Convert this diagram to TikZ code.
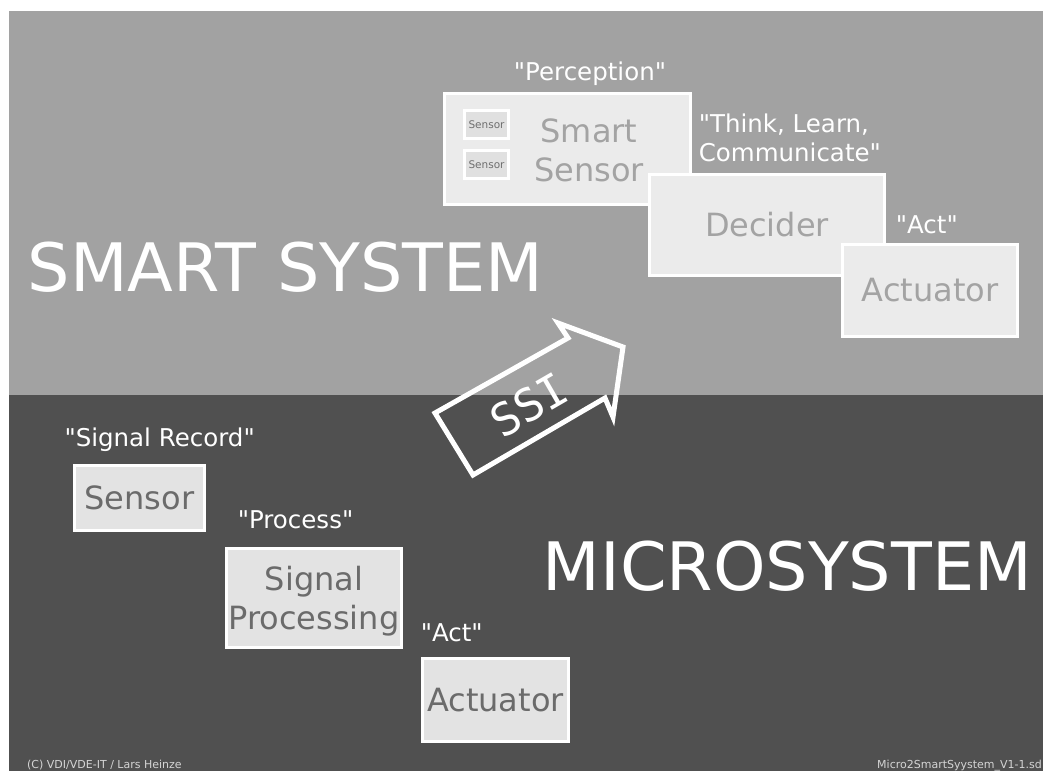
\documentclass[tikz,border=0pt]{standalone}
\usepackage{fontspec}
\setmainfont{DejaVu Sans}[Ligatures=TeXOff]
\newfontfamily\ssifont{DejaVu Sans Mono}
\usepackage{xcolor}
\usepackage{tikz}
\usetikzlibrary{positioning}
\definecolor{smartbg}{HTML}{A2A2A2}
\definecolor{microbg}{HTML}{505050}
\definecolor{smartfill}{HTML}{EBEBEB}
\definecolor{smarttext}{HTML}{A3A3A3}
\definecolor{sensorfill}{HTML}{E0E0E0}
\definecolor{sensortext}{HTML}{6E6E6E}
\definecolor{microfill}{HTML}{E3E3E3}
\definecolor{microtext}{HTML}{6B6B6B}
\definecolor{foottext}{HTML}{D4D4D4}
\newcommand{\pxfont}[2]{\fontsize{#1}{#2}\selectfont}

\begin{document}
\begin{tikzpicture}[x=1pt, y=-1pt,
    smartbox/.style={draw=white, line width=3pt, fill=smartfill, inner sep=0pt,
                     text=smarttext, font=\pxfont{32}{39}},
    microbox/.style={draw=white, line width=3pt, fill=microfill, inner sep=0pt,
                     text=microtext, font=\pxfont{32}{39}},
    quotetext/.style={text=white, font=\pxfont{24.5}{29.5}, inner sep=0pt},
    title/.style={text=white, font=\pxfont{66.8}{66.8}, inner sep=0pt, anchor=base west},
    foot/.style={text=foottext, font=\pxfont{11}{12}, inner sep=0pt}]
  \useasboundingbox (0,0) rectangle (1043,771);

  % --- Backgrounds ---
  \fill[smartbg] (9,11) rectangle (1043,395);
  \fill[microbg] (9,395) rectangle (1043,771);

  % --- Smart system (top) ---
  \node[title] (smartsystem) at (27.5,291) {SMART SYSTEM};

  \node[smartbox, minimum width=246pt, minimum height=111pt] (smartsensor) at (567.5,149) {};
  \foreach \y [count=\i] in {124.5,164.5} {
    \node[draw=white, line width=3pt, fill=sensorfill, inner sep=0pt,
          minimum width=44pt, minimum height=28pt,
          text=sensortext, font=\pxfont{10.5}{12}] (sensor\i) at (486.5,\y) {Sensor};
  }
  \node[text=smarttext, font=\pxfont{32}{39}, align=center, inner sep=0pt] (smartsensortext) at (589,150) {Smart\\Sensor};
  \node[smartbox, minimum width=235pt, minimum height=101pt] (decider) at (767,225) {Decider};
  \node[smartbox, minimum width=175pt, minimum height=92pt] (actuatortop) at (930,290.5) {Actuator};

  % Labels
  \node[quotetext, anchor=base] (perception) at (590,80) {"Perception"};
  \node[quotetext, anchor=north west, align=left] (think) at (698.6,113.4) {"Think, Learn,\\Communicate"};
  \node[quotetext, anchor=base west] (acttop) at (895.6,233) {"Act"};

  % --- Microsystem (bottom) ---
  \node[title] (microsystem) at (542.5,590) {MICROSYSTEM};

  \node[microbox, minimum width=130pt, minimum height=65pt] (sensor) at (139.5,498) {Sensor};
  \node[microbox, minimum width=175pt, minimum height=99pt, align=center, text depth=0pt] (processing) at (314,598) {Signal\\Processing};
  \node[microbox, minimum width=146pt, minimum height=83pt] (actuator) at (495.5,700) {Actuator};

  \node[quotetext, anchor=base west] (signalrecord) at (64.3,446) {"Signal Record"};
  \node[quotetext, anchor=base west] (process) at (237.6,528) {"Process"};
  \node[quotetext, anchor=base west] (act) at (420.6,641) {"Act"};

  % --- SSI arrow ---
  \draw[white, line width=5pt, line join=miter]
    (435,413) -- (473,475) -- (605,398) -- (613,417) -- (623,347) -- (558,323) -- (568,338) -- cycle;
  \node[text=white, font=\ssifont\pxfont{45}{45}, rotate=30, inner sep=0pt] (ssi) at (529,405) {SSI};

  % Footer
  \node[foot, anchor=base west] (copyright) at (27,768) {(C) VDI/VDE-IT / Lars Heinze};
  \node[foot, anchor=base east] (filename) at (1042,768) {Micro2SmartSyystem\_V1-1.sd};
\end{tikzpicture}
\end{document}
